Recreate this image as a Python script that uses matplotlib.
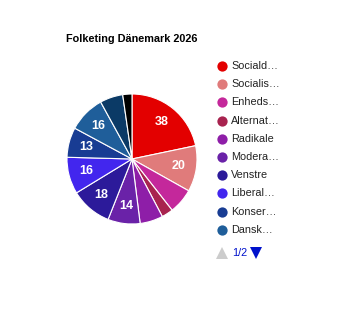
import matplotlib
matplotlib.use('Agg')
import matplotlib.pyplot as plt

# seats, clockwise from 12 o'clock
parties = ["Socialdemokratiet", "Socialistisk Folkeparti", "Enhedslisten", "Alternativet",
           "Radikale", "Moderaterne", "Venstre", "Liberal Alliance", "Konservative",
           "Dansk Folkeparti", "Danmarksdemokraterne", "Borgernes Parti"]
legend_text = ["Sociald…", "Socialis…", "Enheds…", "Alternat…", "Radikale",
               "Modera…", "Venstre", "Liberal…", "Konser…", "Dansk…"]
seats = [38, 20, 11, 5, 10, 14, 18, 16, 13, 16, 10, 4]
colors = ["#e30000", "#e07b7b", "#c4289b", "#a8234f", "#8e1ea8", "#6a22a8",
          "#2c1a9a", "#4226ee", "#183c93", "#1f5e9a", "#0b3a66", "#000000"]
title = "Folketing Dänemark 2026"
page_text = "1/2"

W, H = 346, 318
fig = plt.figure(figsize=(W / 100, H / 100), dpi=100)
plt.rcParams['font.family'] = ['Liberation Sans', 'DejaVu Sans']

# pie: centre (132,159), radius 65 px
cx, cy, r = 132, 159, 65
ax = fig.add_axes([(cx - r) / W, (H - cy - r) / H, 2 * r / W, 2 * r / H])
total = sum(seats)
wedges, texts, autotexts = ax.pie(
    seats, colors=colors, startangle=90, counterclock=False,
    pctdistance=0.73,
    autopct=lambda p: f"{round(p * total / 100)}" if p > 7 else "",
    wedgeprops=dict(edgecolor='white', linewidth=0.8))
for t in autotexts:
    t.set_color('white')
    t.set_fontsize(9)
    t.set_fontweight('bold')
ax.set_xlim(-1, 1)
ax.set_ylim(-1, 1)
ax.set_aspect('equal')
ax.axis('off')

fig.text(66 / W, 1 - 38.5 / H, title, fontsize=7.8, fontweight='bold',
         ha='left', va='center', color='#000000')

# legend, in pixel coordinates
lg = fig.add_axes([0, 0, 1, 1])
lg.set_xlim(0, W)
lg.set_ylim(H, 0)
lg.axis('off')
for i, label in enumerate(legend_text):
    y = 66 + i * 18.2
    lg.plot(221.7, y, 'o', color=colors[i], markersize=7.4, markeredgewidth=0)
    lg.text(231, y, label, fontsize=7.8, ha='left', va='center', color='#222222')

lg.plot(221.7, 253, '^', color='#cccccc', markersize=8, markeredgewidth=0)
lg.text(232, 252.5, page_text, fontsize=7.8, ha='left', va='center', color='#0011cc')
lg.plot(255.7, 253, 'v', color='#0011cc', markersize=8, markeredgewidth=0)

fig.savefig('out.png', dpi=100, facecolor='white')
